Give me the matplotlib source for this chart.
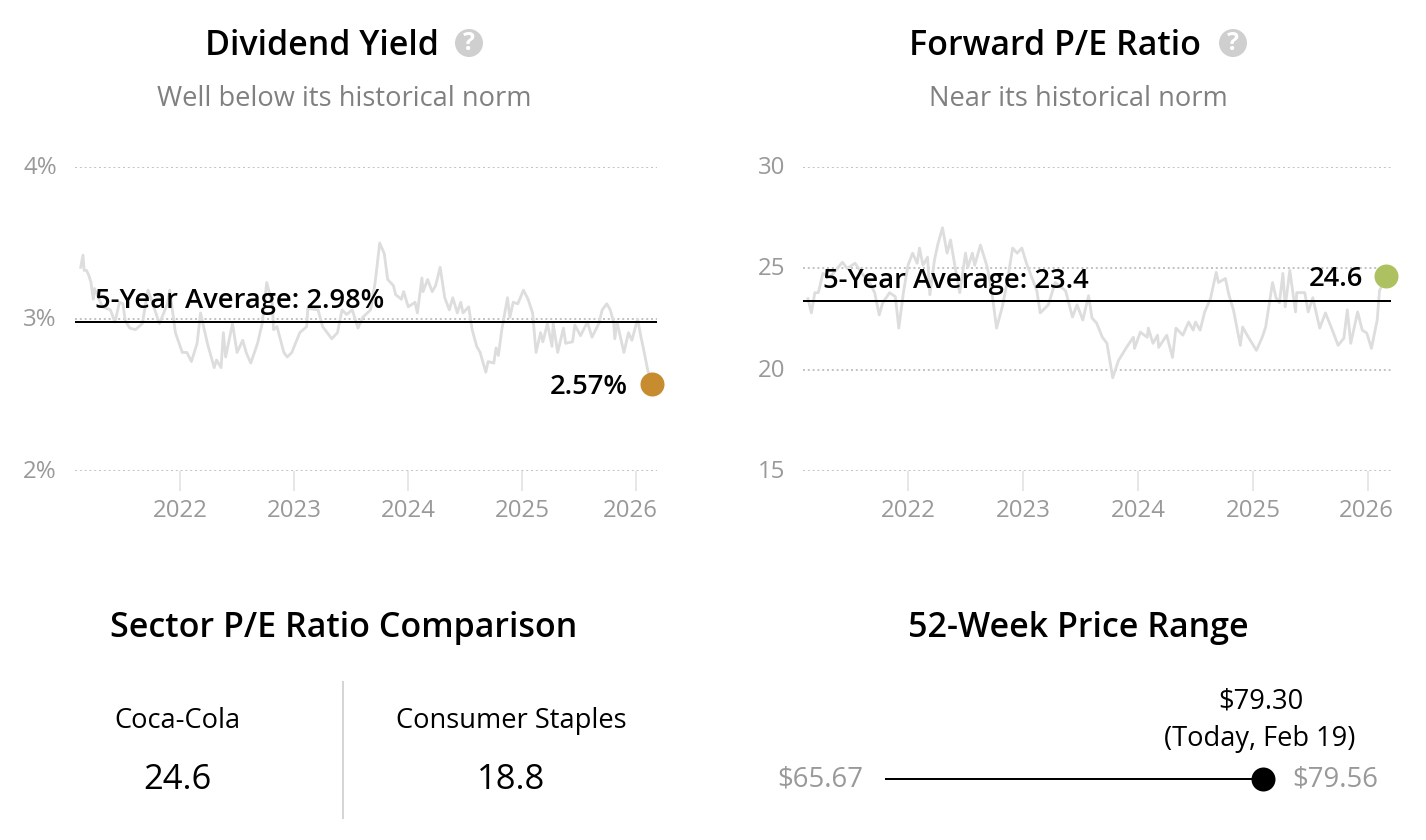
import matplotlib
matplotlib.use("Agg")
import matplotlib.pyplot as plt
from matplotlib.transforms import ScaledTranslation
from matplotlib.patches import Circle

plt.rcParams['font.family'] = ['Open Sans', 'DejaVu Sans']

years = [2022, 2023, 2024, 2025, 2026]

yield_dates = [2021.13, 2021.15, 2021.16, 2021.18, 2021.20, 2021.22, 2021.24, 2021.25, 2021.32, 2021.39,
               2021.43, 2021.47, 2021.50, 2021.52, 2021.56, 2021.61, 2021.67, 2021.72, 2021.82, 2021.89,
               2021.91, 2021.96, 2022.02, 2022.06, 2022.10, 2022.15, 2022.18, 2022.24, 2022.30, 2022.32,
               2022.36, 2022.38, 2022.40, 2022.46, 2022.50, 2022.55, 2022.58, 2022.62, 2022.68, 2022.72,
               2022.76, 2022.81, 2022.82, 2022.85, 2022.91, 2022.94, 2022.98, 2023.05, 2023.11, 2023.12,
               2023.21, 2023.25, 2023.33, 2023.38, 2023.42, 2023.46, 2023.51, 2023.56, 2023.60, 2023.67,
               2023.71, 2023.75, 2023.79, 2023.82, 2023.87, 2023.89, 2023.94, 2023.96, 2024.00, 2024.06,
               2024.08, 2024.12, 2024.13, 2024.17, 2024.21, 2024.24, 2024.28, 2024.32, 2024.36, 2024.39,
               2024.43, 2024.46, 2024.48, 2024.53, 2024.56, 2024.60, 2024.63, 2024.68, 2024.70, 2024.75,
               2024.77, 2024.79, 2024.82, 2024.87, 2024.89, 2024.92, 2024.96, 2025.01, 2025.05, 2025.09,
               2025.12, 2025.16, 2025.18, 2025.22, 2025.26, 2025.27, 2025.31, 2025.36, 2025.38, 2025.44,
               2025.46, 2025.51, 2025.57, 2025.61, 2025.67, 2025.70, 2025.74, 2025.77, 2025.80, 2025.81,
               2025.83, 2025.86, 2025.89, 2025.93, 2025.96, 2026.01, 2026.04, 2026.06, 2026.10, 2026.14]
yield_vals = [3.34, 3.42, 3.32, 3.32, 3.29, 3.24, 3.13, 3.20, 3.08, 3.06,
              2.98, 3.11, 3.10, 2.99, 2.94, 2.93, 2.97, 3.19, 2.97, 3.10,
              3.19, 2.91, 2.78, 2.78, 2.72, 2.84, 3.04, 2.84, 2.68, 2.73,
              2.68, 2.91, 2.75, 2.97, 2.78, 2.86, 2.78, 2.71, 2.84, 2.97,
              3.24, 3.10, 2.93, 2.95, 2.78, 2.75, 2.78, 2.91, 2.95, 3.07,
              3.06, 2.95, 2.87, 2.91, 3.06, 3.03, 3.06, 2.94, 3.01, 3.06,
              3.24, 3.50, 3.43, 3.26, 3.22, 3.16, 3.13, 3.18, 3.08, 3.11,
              3.04, 3.27, 3.18, 3.26, 3.18, 3.22, 3.34, 3.14, 3.06, 3.14,
              3.04, 3.11, 3.04, 3.08, 2.93, 2.82, 2.78, 2.65, 2.72, 2.71,
              2.81, 2.76, 2.93, 3.14, 3.01, 3.11, 3.10, 3.19, 3.13, 3.04,
              2.78, 2.91, 2.85, 2.97, 2.82, 2.97, 2.78, 2.94, 2.84, 2.85,
              2.96, 2.89, 2.98, 2.88, 2.97, 3.06, 3.10, 3.06, 2.98, 2.87,
              2.98, 2.88, 2.78, 2.91, 2.86, 3.00, 2.88, 2.81, 2.66, 2.57]

pe_dates = [2021.13, 2021.16, 2021.19, 2021.22, 2021.26, 2021.32, 2021.43, 2021.47, 2021.50, 2021.54,
            2021.60, 2021.67, 2021.71, 2021.75, 2021.78, 2021.84, 2021.89, 2021.92, 2021.96, 2022.00,
            2022.04, 2022.08, 2022.10, 2022.13, 2022.17, 2022.19, 2022.23, 2022.26, 2022.30, 2022.34,
            2022.37, 2022.41, 2022.45, 2022.50, 2022.52, 2022.56, 2022.58, 2022.63, 2022.69, 2022.73,
            2022.77, 2022.82, 2022.86, 2022.91, 2022.95, 2022.99, 2023.03, 2023.12, 2023.15, 2023.22,
            2023.28, 2023.37, 2023.43, 2023.47, 2023.52, 2023.57, 2023.60, 2023.64, 2023.69, 2023.73,
            2023.78, 2023.83, 2023.90, 2023.96, 2023.97, 2024.02, 2024.08, 2024.09, 2024.13, 2024.17,
            2024.18, 2024.25, 2024.30, 2024.33, 2024.39, 2024.44, 2024.48, 2024.50, 2024.54, 2024.58,
            2024.63, 2024.68, 2024.70, 2024.76, 2024.79, 2024.83, 2024.89, 2024.91, 2024.96, 2025.03,
            2025.08, 2025.11, 2025.17, 2025.20, 2025.23, 2025.26, 2025.28, 2025.32, 2025.37, 2025.38,
            2025.45, 2025.48, 2025.52, 2025.58, 2025.63, 2025.69, 2025.74, 2025.79, 2025.82, 2025.85,
            2025.91, 2025.95, 2025.99, 2026.03, 2026.08, 2026.10, 2026.16]
pe_vals = [23.5, 22.8, 23.8, 23.8, 24.75, 24.55, 25.3, 25.0, 25.1, 25.25,
           24.75, 24.25, 23.8, 22.7, 23.3, 23.8, 23.6, 22.05, 23.8, 25.15,
           25.75, 25.25, 26.0, 25.15, 25.55, 23.7, 25.4, 26.2, 27.0, 25.75,
           26.4, 25.05, 23.8, 25.75, 25.05, 25.75, 25.15, 26.15, 25.05, 23.8,
           22.05, 23.1, 24.25, 26.0, 25.75, 26.0, 25.25, 23.9, 22.8, 23.2,
           24.3, 23.9, 22.6, 23.2, 22.45, 23.65, 22.55, 22.3, 21.6, 21.3,
           19.6, 20.45, 21.1, 21.6, 21.05, 21.85, 21.6, 22.05, 21.3, 21.7,
           21.1, 21.7, 20.6, 22.05, 21.7, 22.35, 21.95, 22.35, 21.95, 22.85,
           23.5, 24.8, 24.3, 24.5, 23.7, 22.95, 21.2, 22.1, 21.6, 20.95,
           21.6, 22.1, 24.3, 23.55, 23.3, 24.75, 23.1, 24.9, 22.85, 23.8,
           23.8, 22.85, 23.55, 22.05, 22.8, 21.95, 21.2, 21.55, 22.95, 21.3,
           22.85, 21.95, 21.8, 21.05, 22.45, 23.9, 24.6]

yield_avg = 2.98
pe_avg = 23.4
price_low = 65.67
price_high = 79.56
price_now = 79.30

W, H = 1426, 840
fig = plt.figure(figsize=(W / 100, H / 100), dpi=100)

def pt(px):
    return px * 0.72

def put(x, y, s, size, color="black", ha="center", weight="normal"):
    # open sans sits a little high with va=center, hence the 3px
    fig.text(x / W, 1 - (y + 3) / H, s, fontsize=pt(size), color=color, ha=ha, va="center", fontweight=weight)

def make_axes(left, right, top, bottom):
    return fig.add_axes([left / W, 1 - bottom / H, (right - left) / W, (bottom - top) / H])

def small_chart(box, xlim, ylim, yticks, ylabels, dates, vals, avg, dot_color, last_shift):
    ax = make_axes(*box)
    ax.set_xlim(*xlim)
    ax.set_ylim(*ylim)
    for s in ax.spines.values():
        s.set_visible(False)
    ax.patch.set_alpha(0)
    ax.set_yticks(yticks)
    ax.set_yticklabels(ylabels)
    ax.set_xticks(years)
    ax.set_xticklabels([str(y) for y in years])
    ax.tick_params(axis="y", length=0, pad=pt(18), labelsize=pt(24), labelcolor="#999999")
    ax.tick_params(axis="x", length=pt(20), width=pt(1.5), color="#e0e0e0", pad=pt(8),
                   labelsize=pt(24), labelcolor="#999999")
    up = ScaledTranslation(0, pt(2) / 72, fig.dpi_scale_trans)
    for lab in ax.get_yticklabels():
        lab.set_transform(lab.get_transform() + up)
    lab = ax.get_xticklabels()[-1]
    lab.set_transform(lab.get_transform() + ScaledTranslation(pt(last_shift) / 72, 0, fig.dpi_scale_trans))
    ax.grid(axis="y", color="#c4c4c4", linestyle=(0, (1, 1.4)), linewidth=pt(2))
    ax.set_axisbelow(True)
    ax.plot(dates, vals, color="#dddddd", linewidth=pt(2.8), solid_joinstyle="round", clip_on=False)
    ax.axhline(avg, color="black", linewidth=pt(2))
    ax.plot(dates[-1], vals[-1], "o", color=dot_color, markersize=pt(24), mew=0, clip_on=False, zorder=5)
    return ax

small_chart((75, 657, 167, 471), (2021.08, 2026.18), (2, 4), [2, 3, 4], ["2%", "3%", "4%"],
            yield_dates, yield_vals, yield_avg, "#c68c2f", -6)
small_chart((803, 1391, 167, 471), (2021.087, 2026.2), (15, 30), [15, 20, 25, 30], ["15", "20", "25", "30"],
            pe_dates, pe_vals, pe_avg, "#adc160", -2)

# headings
put(322, 43, "Dividend Yield", 34, weight=600)
put(1055, 43, "Forward P/E Ratio", 34, weight=600)
put(344, 96, "Well below its historical norm", 27.3, color="#808080")
put(1078, 96, "Near its historical norm", 27.3, color="#808080")

# help icons
overlay = fig.add_axes([0, 0, 1, 1])
overlay.set_xlim(0, W)
overlay.set_ylim(H, 0)
overlay.axis("off")
overlay.patch.set_alpha(0)
for cx in (469, 1233):
    overlay.add_patch(Circle((cx, 43), 14, color="#cfcfcf", lw=0))
    overlay.text(cx, 44, "?", fontsize=pt(25), color="white", fontweight="bold", ha="center", va="center")

# chart annotations
put(95, 298, "5-Year Average: 2.98%", 27.4, ha="left", weight=600)
put(823, 278, "5-Year Average: 23.4", 27.4, ha="left", weight=600)
put(628, 384, "2.57%", 27.4, ha="right", weight=600)
put(1363, 276, "24.6", 27.4, ha="right", weight=600)

# bottom left
put(344, 625, "Sector P/E Ratio Comparison", 34, weight=600)
put(177, 718, "Coca-Cola", 27.3)
put(511, 718, "Consumer Staples", 27.3)
put(177, 777, "24.6", 34.5)
put(511, 777, "18.8", 34.5)
overlay.plot([343, 343], [682, 818], color="#d5d5d5", linewidth=pt(2))

# bottom right
put(1078, 625, "52-Week Price Range", 34, weight=600)
rng = make_axes(886, 1270, 760, 798)
rng.set_xlim(price_low, price_high)
rng.set_ylim(-1, 1)
rng.axis("off")
rng.plot([price_low, price_now], [0, 0], color="black", linewidth=pt(2), clip_on=False)
rng.plot(price_now, 0, "o", color="black", markersize=pt(24), mew=0, clip_on=False)
put(863, 777, "$%.2f" % price_low, 27.5, color="#999999", ha="right")
put(1292, 777, "$%.2f" % price_high, 27.5, color="#999999", ha="left")
put(1261, 698, "$%.2f" % price_now, 27.3)
put(1260, 736, "(Today, Feb 19)", 27.3)

fig.savefig("out.png", dpi=100)
